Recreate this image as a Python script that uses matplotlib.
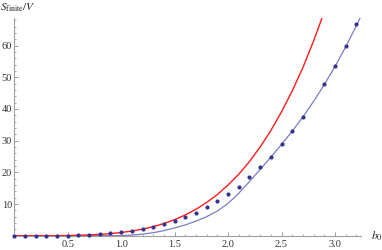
import matplotlib
matplotlib.use('Agg')
import matplotlib.pyplot as plt
from matplotlib.ticker import MultipleLocator, FixedLocator

# data points (b0 = 2.8 is missing in the original)
b_pts = [0.0, 0.1, 0.2, 0.3, 0.4, 0.5, 0.6, 0.7, 0.8, 0.9, 1.0, 1.1, 1.2, 1.3, 1.4, 1.5,
         1.6, 1.7, 1.8, 1.9, 2.0, 2.1, 2.2, 2.3, 2.4, 2.5, 2.6, 2.7, 2.9, 3.0, 3.1, 3.2]
s_pts = [0.0, 0.0, 0.0, 0.01, 0.03, 0.06, 0.13, 0.24, 0.42, 0.7, 1.05, 1.5, 2.0, 2.7, 3.6, 4.6,
         5.9, 7.3, 9.0, 10.9, 13.1, 15.5, 18.4, 21.6, 24.9, 28.9, 33.2, 37.5, 48.0, 53.7, 60.0, 66.9]

# red curve
b_red = [0.0, 0.1, 0.2, 0.3, 0.4, 0.5, 0.6, 0.7, 0.8, 0.9, 1.0, 1.1, 1.2, 1.3, 1.4, 1.5,
         1.6, 1.7, 1.8, 1.9, 2.0, 2.1, 2.2, 2.3, 2.4, 2.5, 2.6, 2.7, 2.8, 2.9]
s_red = [0.0, 0.0, 0.0, 0.01, 0.03, 0.06, 0.13, 0.24, 0.41, 0.66, 1.0, 1.46, 2.07, 2.86, 3.84, 5.06,
         6.55, 8.35, 10.5, 13.0, 16.0, 19.4, 23.4, 28.0, 33.2, 39.1, 45.7, 53.1, 61.5, 70.7]

# blue fit curve
b_fit = [0.0, 0.5, 0.9, 1.0, 1.1, 1.2, 1.3, 1.4, 1.5, 1.6, 1.7, 1.8, 1.9, 2.0, 2.1, 2.2,
         2.3, 2.4, 2.5, 2.6, 2.7, 2.8, 2.9, 3.0, 3.1, 3.2, 3.25]
s_fit = [0.0, 0.0, 0.0, 0.03, 0.2, 0.5, 0.95, 1.6, 2.45, 3.4, 4.6, 6.0, 7.8, 10.2, 13.4, 17.1,
         20.9, 24.8, 28.8, 33.0, 37.5, 42.4, 47.7, 53.4, 59.6, 66.3, 69.8]

plt.rcParams['font.family'] = ['Liberation Serif', 'DejaVu Serif']
plt.rcParams['mathtext.fontset'] = 'stix'

fig = plt.figure(figsize=(3.82, 2.50), dpi=100)
ax = fig.add_axes([0.0372, 0.0572, 0.907, 0.872])

ax.plot(b_fit, s_fit, color='#7b7bc4', lw=0.9)
ax.plot(b_red, s_red, color='#ff1a1a', lw=1.0)
ax.plot(b_pts, s_pts, 'o', color='#34348c', ms=3.0, mew=0, clip_on=False, zorder=5)

ax.set_xlim(0, 3.24)
ax.set_ylim(0, 68.8)

# Mathematica-like axes
for side in ['top', 'right']:
    ax.spines[side].set_visible(False)
for side in ['left', 'bottom']:
    ax.spines[side].set_color('#a0a0a0')
    ax.spines[side].set_linewidth(0.8)

ax.xaxis.set_major_locator(FixedLocator([0.5, 1.0, 1.5, 2.0, 2.5, 3.0]))
ax.xaxis.set_minor_locator(MultipleLocator(0.1))
ax.yaxis.set_major_locator(FixedLocator([10, 20, 30, 40, 50, 60]))
ax.yaxis.set_minor_locator(MultipleLocator(2))
ax.set_xticklabels(['0.5', '1.0', '1.5', '2.0', '2.5', '3.0'])
ax.set_yticklabels(['10', '20', '30', '40', '50', '60'])
ax.tick_params(which='both', direction='in', color='#a0a0a0', labelsize=7.5, labelcolor='#333333')
ax.tick_params(which='major', length=3.0, width=0.7)
ax.tick_params(which='minor', length=1.6, width=0.6)
ax.tick_params(axis='x', pad=3)
ax.tick_params(axis='y', pad=1.5)

fig.text(0.0, 0.97, r'$S_{\mathrm{finite}}/V$', fontsize=8, color='#222222', va='center', ha='left')
fig.text(0.970, 0.056, r'$b_0$', fontsize=8.5, color='#222222', va='center', ha='left')

fig.savefig('out.png', dpi=100)
